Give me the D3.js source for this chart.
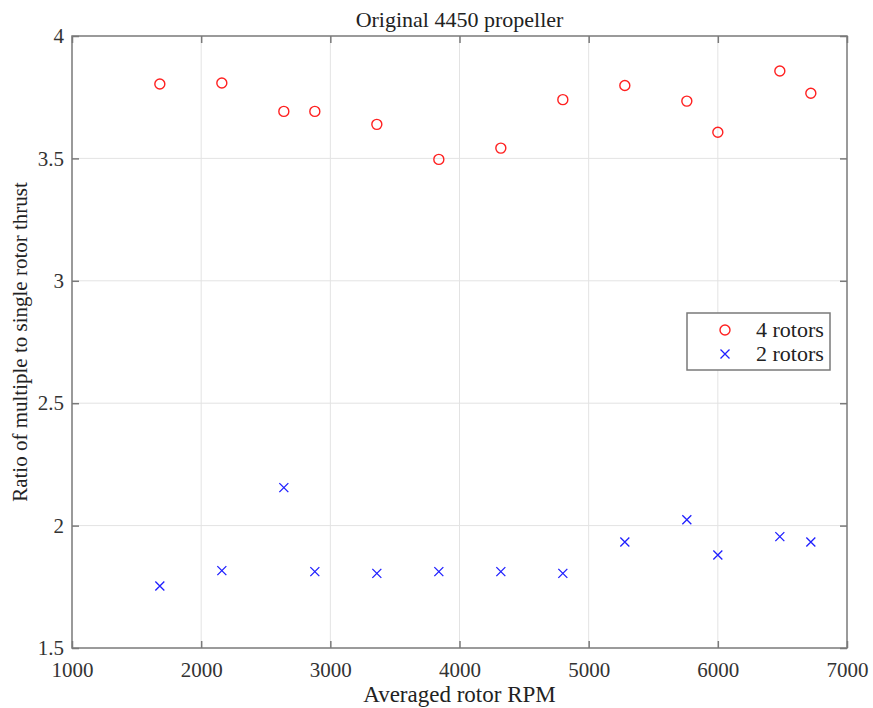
<!DOCTYPE html>
<html>
<head>
<meta charset="utf-8">
<script src="https://cdn.jsdelivr.net/npm/d3@7"></script>
<style>
  body { margin: 0; background: #fff; }
  svg { display: block; font-family: "Liberation Serif", "DejaVu Serif", serif; }
</style>
</head>
<body>
<svg id="chart"></svg>
<script>
// Averaged rotor RPM (x), shared by both series
const rpm = [1680, 2160, 2640, 2880, 3360, 3840, 4320, 4800, 5280, 5760, 6000, 6480, 6720];
// Ratio of multiple to single rotor thrust
const fourRotors = [3.804, 3.808, 3.692, 3.692, 3.639, 3.496, 3.542, 3.740, 3.798, 3.734, 3.607, 3.857, 3.766];
const twoRotors = [1.753, 1.816, 2.155, 1.812, 1.805, 1.812, 1.812, 1.805, 1.933, 2.024, 1.880, 1.955, 1.933];
const xTicks = [1000, 2000, 3000, 4000, 5000, 6000, 7000];
const yTicks = [1.5, 2, 2.5, 3, 3.5, 4];

const width = 873, height = 708;
const marginTop = 36, marginRight = 26, marginBottom = 60, marginLeft = 72;

const svg = d3.select('#chart')
  .attr('width', width)
  .attr('height', height)
  .attr('viewBox', [0, 0, width, height]);

const x = d3.scaleLinear([1000, 7000], [marginLeft, width - marginRight]);
const y = d3.scaleLinear([1.5, 4], [height - marginBottom, marginTop]);

const axisColor = '#7a7a7a';
const tickLen = 7;

// Grid
svg.append('g')
  .selectAll('line')
  .data(xTicks.slice(1, -1))
  .join('line')
    .attr('x1', d => x(d)).attr('x2', d => x(d))
    .attr('y1', marginTop).attr('y2', height - marginBottom)
    .attr('stroke', '#e3e3e3').attr('stroke-width', 1);
svg.append('g')
  .selectAll('line')
  .data(yTicks.slice(1, -1))
  .join('line')
    .attr('x1', marginLeft).attr('x2', width - marginRight)
    .attr('y1', d => y(d)).attr('y2', d => y(d))
    .attr('stroke', '#e3e3e3').attr('stroke-width', 1);

// Axes (ticks inward, box on)
const xAxis = d3.axisBottom(x).tickValues(xTicks).tickSize(-tickLen).tickPadding(tickLen + 7).tickFormat(d3.format('d'));
const yAxis = d3.axisLeft(y).tickValues(yTicks).tickSize(-tickLen).tickPadding(tickLen + 1).tickFormat(d => d);

svg.append('g')
  .attr('transform', `translate(0,${height - marginBottom})`)
  .call(xAxis)
  .call(g => g.select('.domain').remove())
  .call(g => g.selectAll('.tick line').attr('stroke', axisColor).attr('stroke-width', 1.5))
  .call(g => g.selectAll('.tick text').attr('fill', '#333').attr('font-size', 21).attr('font-family', 'Liberation Serif'));

svg.append('g')
  .attr('transform', `translate(${marginLeft},0)`)
  .call(yAxis)
  .call(g => g.select('.domain').remove())
  .call(g => g.selectAll('.tick line').attr('stroke', axisColor).attr('stroke-width', 1.5))
  .call(g => g.selectAll('.tick text').attr('fill', '#333').attr('font-size', 21).attr('font-family', 'Liberation Serif'));

// Top and right ticks
svg.append('g')
  .attr('transform', `translate(0,${marginTop})`)
  .call(d3.axisTop(x).tickValues(xTicks).tickSize(-tickLen).tickFormat(''))
  .call(g => g.select('.domain').remove())
  .call(g => g.selectAll('.tick line').attr('stroke', axisColor).attr('stroke-width', 1.5));
svg.append('g')
  .attr('transform', `translate(${width - marginRight},0)`)
  .call(d3.axisRight(y).tickValues(yTicks).tickSize(-tickLen).tickFormat(''))
  .call(g => g.select('.domain').remove())
  .call(g => g.selectAll('.tick line').attr('stroke', axisColor).attr('stroke-width', 1.5));

// Box
svg.append('rect')
  .attr('x', marginLeft).attr('y', marginTop)
  .attr('width', width - marginLeft - marginRight)
  .attr('height', height - marginTop - marginBottom)
  .attr('fill', 'none').attr('stroke', axisColor).attr('stroke-width', 1.5);

// Markers
const circleR = 5;
const crossS = 4.5;

svg.append('g')
  .selectAll('circle')
  .data(rpm)
  .join('circle')
    .attr('cx', d => x(d))
    .attr('cy', (d, i) => y(fourRotors[i]))
    .attr('r', circleR)
    .attr('fill', 'none')
    .attr('stroke', '#ff2020')
    .attr('stroke-width', 1.4);

const cross = s => `M${-s},${-s}L${s},${s}M${-s},${s}L${s},${-s}`;
svg.append('g')
  .selectAll('path')
  .data(rpm)
  .join('path')
    .attr('transform', (d, i) => `translate(${x(d)},${y(twoRotors[i])})`)
    .attr('d', cross(crossS))
    .attr('fill', 'none')
    .attr('stroke', '#2020ff')
    .attr('stroke-width', 1.3);

// Title and axis labels
svg.append('text')
  .attr('x', (marginLeft + width - marginRight) / 2)
  .attr('y', 27)
  .attr('text-anchor', 'middle')
  .attr('font-size', 22)
  .attr('fill', '#222')
  .text('Original 4450 propeller');

svg.append('text')
  .attr('x', (marginLeft + width - marginRight) / 2)
  .attr('y', 702)
  .attr('text-anchor', 'middle')
  .attr('font-size', 23)
  .attr('fill', '#222')
  .text('Averaged rotor RPM');

svg.append('text')
  .attr('transform', `translate(27,${(marginTop + height - marginBottom) / 2}) rotate(-90)`)
  .attr('text-anchor', 'middle')
  .attr('font-size', 21)
  .attr('fill', '#222')
  .text('Ratio of multiple to single rotor thrust');

// Legend
const legend = svg.append('g').attr('transform', 'translate(687,313)');
legend.append('rect')
  .attr('width', 143).attr('height', 57)
  .attr('fill', '#fff').attr('stroke', axisColor).attr('stroke-width', 1.5);
legend.append('circle')
  .attr('cx', 38).attr('cy', 17).attr('r', circleR)
  .attr('fill', 'none').attr('stroke', '#ff2020').attr('stroke-width', 1.4);
legend.append('path')
  .attr('transform', 'translate(38,41)')
  .attr('d', cross(crossS))
  .attr('fill', 'none').attr('stroke', '#2020ff').attr('stroke-width', 1.3);
legend.selectAll('text.lbl')
  .data(['4 rotors', '2 rotors'])
  .join('text')
    .attr('class', 'lbl')
    .attr('x', 69)
    .attr('y', (d, i) => 24 + i * 24)
    .attr('font-size', 22)
    .attr('fill', '#222')
    .text(d => d);
</script>
</body>
</html>
